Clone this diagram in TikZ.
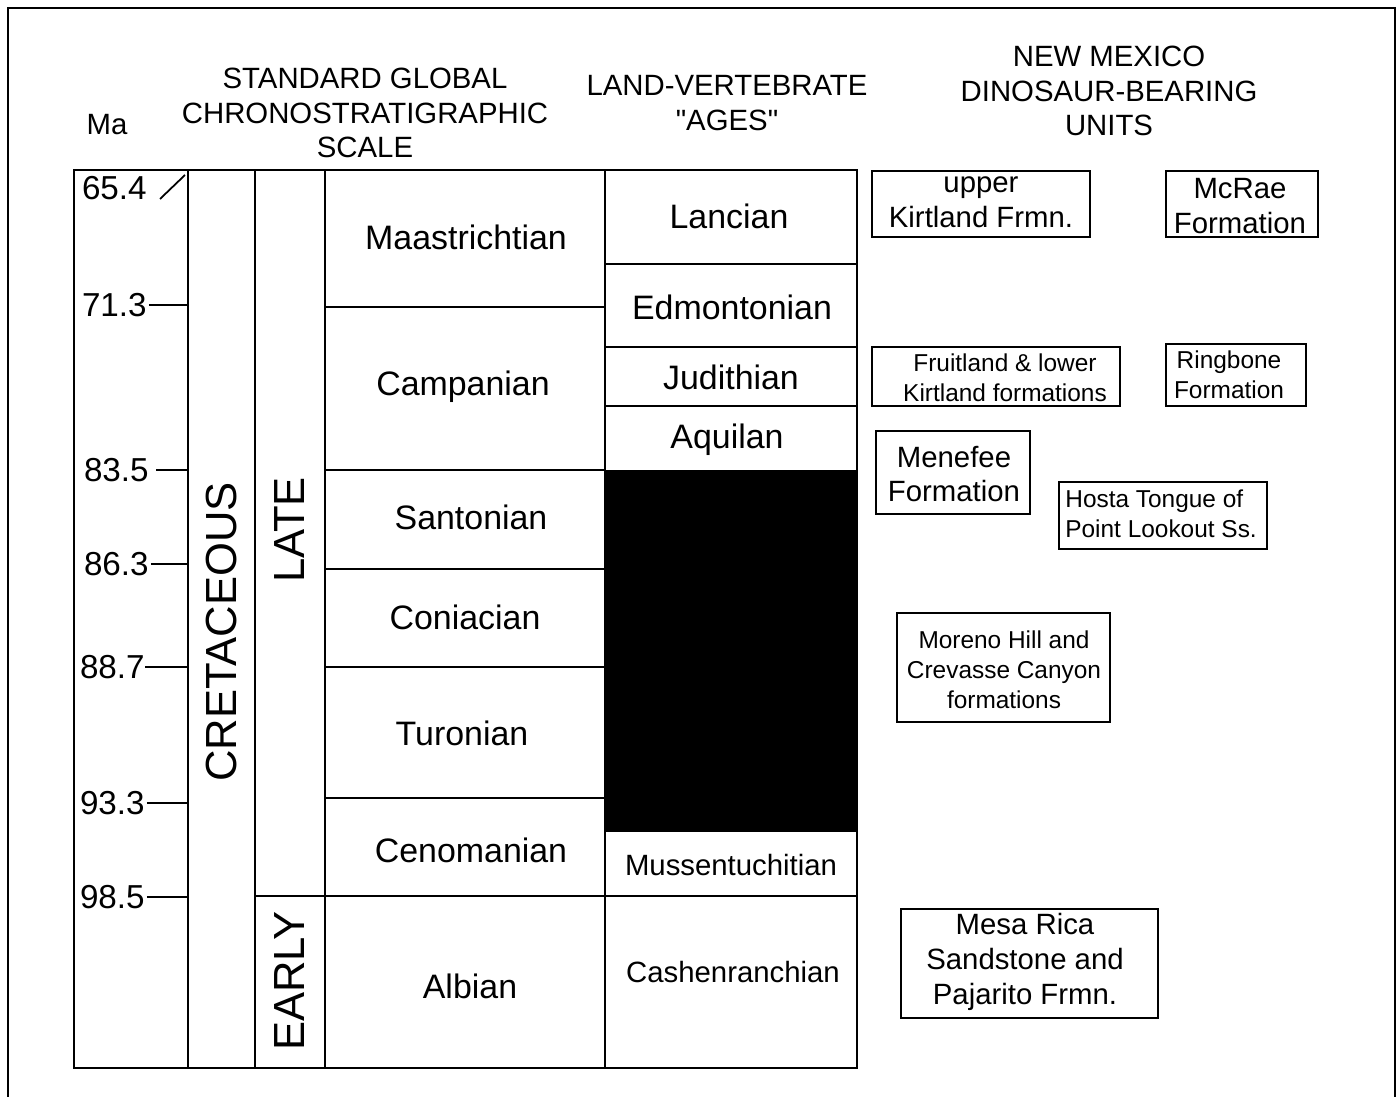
\documentclass[tikz,border=0pt]{standalone}
\usepackage{fontspec}
\setmainfont{Liberation Sans}[Ligatures=TeXOff]
\newcommand\szA{\fontsize{19.3pt}{23pt}\selectfont}
\newcommand\szN{\fontsize{18.9pt}{22pt}\selectfont}
\newcommand\szB{\fontsize{16.7pt}{19.8pt}\selectfont}
\newcommand\szC{\fontsize{13.9pt}{17pt}\selectfont}
\newcommand\szV{\fontsize{24.8pt}{28pt}\selectfont}
\tikzset{
  tx/.style={inner sep=0pt, align=center},
  big/.style={tx, font=\szA},
  med/.style={tx, font=\szB},
  sml/.style={tx, font=\szC},
  num/.style={inner sep=0pt, font=\szN},
  vert/.style={inner sep=0pt, font=\szV, rotate=90},
  grid/.style={line width=1pt},
  unitbox/.style={line width=1pt},
  frame/.style={line width=1.5pt},
  tick/.style={line width=1pt}
}
\begin{document}
\begin{tikzpicture}[x=0.02cm, y=-0.02cm]
\useasboundingbox (0,0) rectangle (1398,1097);
% outer frame (bottom edge cut off)
\draw[frame] (8,1097) -- (8,8) -- (1395,8) -- (1395,1097);

% headers
\node[med] (hma) at (107,125) {Ma};
\node[med] (hstd) at (365,113) {STANDARD GLOBAL\\CHRONOSTRATIGRAPHIC\\SCALE};
\node[med] (hlva) at (727,103) {LAND-VERTEBRATE\\"AGES"};
\node[med] (hnm) at (1109,91) {NEW MEXICO\\DINOSAUR-BEARING\\UNITS};

% table frame and columns
\draw[grid] (74,170) rectangle (857,1068);
\coordinate (colA) at (188,170);
\draw[grid] (188,170) -- (188,1068);
\draw[grid] (255,170) -- (255,1068);
\draw[grid] (325,170) -- (325,1068);
\draw[grid] (605,170) -- (605,1068);
% stage boundaries
\draw[grid] (325,307) -- (605,307);
\draw[grid] (325,470) -- (605,470);
\draw[grid] (325,569) -- (605,569);
\draw[grid] (325,667) -- (605,667);
\draw[grid] (325,798) -- (605,798);
\draw[grid] (255,896) -- (857,896);
% LVA boundaries
\draw[grid] (605,264) -- (857,264);
\draw[grid] (605,347) -- (857,347);
\draw[grid] (605,406) -- (857,406);
\fill[black] (605,470) rectangle (857,832);

% Ma numbers and ticks
\node[num, anchor=east] (n654) at (147,188) {65.4};
\coordinate (s1) at (160,199);
\coordinate (s2) at (185,175);
\draw[tick] (s1) -- (s2);
\node[num, anchor=east] (n713) at (147,305) {71.3};
\node[num, anchor=east] (n835) at (149,470) {83.5};
\node[num, anchor=east] (n863) at (149,564) {86.3};
\node[num, anchor=east] (n887) at (145,667) {88.7};
\node[num, anchor=east] (n933) at (145,803) {93.3};
\node[num, anchor=east] (n985) at (145,897) {98.5};
\draw[tick] ([xshift=1pt]n713.east) -- (n713.east -| colA);
\draw[tick] ([xshift=4pt]n835.east) -- (n835.east -| colA);
\draw[tick] ([xshift=1pt]n863.east) -- (n863.east -| colA);
\draw[tick] (n887.east) -- (n887.east -| colA);
\draw[tick] ([xshift=1pt]n933.east) -- (n933.east -| colA);
\draw[tick] ([xshift=1pt]n985.east) -- (n985.east -| colA);

% vertical labels
\node[vert] (cret) at (221,632) {CRETACEOUS};
\node[vert] (late) at (290,530) {LATE};
\node[vert] (early) at (290,981) {EARLY};

% stages
\node[big] (maas) at (466,237) {Maastrichtian};
\node[big] (camp) at (463,387) {Campanian};
\node[big] (sant) at (471,517) {Santonian};
\node[big] (coni) at (465,617) {Coniacian};
\node[big] (turo) at (462,733) {Turonian};
\node[big] (ceno) at (471,850) {Cenomanian};
\node[big] (albi) at (470,986) {Albian};

% land-vertebrate ages
\node[big] (lanc) at (729,216) {Lancian};
\node[big] (edmo) at (732,307) {Edmontonian};
\node[big] (judi) at (731,377) {Judithian};
\node[big] (aqui) at (727,440) {Aquilan};
\node[med] (muss) at (731,865) {Mussentuchitian};
\node[med] (cash) at (733,972) {Cashenranchian};

% New Mexico units
\draw[unitbox] (872,171) rectangle (1090,237);
\node[med] (ukirt) at (981,202) {upper\\Kirtland Frmn.};
\draw[unitbox] (1166,171) rectangle (1318,237);
\node[med] (mcrae) at (1240,206) {McRae\\Formation};
\draw[unitbox] (872,347) rectangle (1120,406);
\node[sml] (fruit) at (1005,378) {Fruitland \& lower\\Kirtland formations};
\draw[unitbox] (1166,344) rectangle (1306,406);
\node[sml] (ring) at (1229,375) {Ringbone\\Formation};
\draw[unitbox] (876,431) rectangle (1030,514);
\node[med] (mene) at (954,474) {Menefee\\Formation};
\draw[unitbox] (1059,482) rectangle (1267,549);
\node[sml, align=left, anchor=west] (hosta) at (1065,514) {Hosta Tongue of\\Point Lookout Ss.};
\draw[unitbox] (897,613) rectangle (1110,722);
\node[sml] (moreno) at (1004,670) {Moreno Hill and\\Crevasse Canyon\\formations};
\draw[unitbox] (901,909) rectangle (1158,1018);
\node[med] (mesa) at (1025,962) {Mesa Rica\\Sandstone and\\Pajarito Frmn.};
\end{tikzpicture}
\end{document}
